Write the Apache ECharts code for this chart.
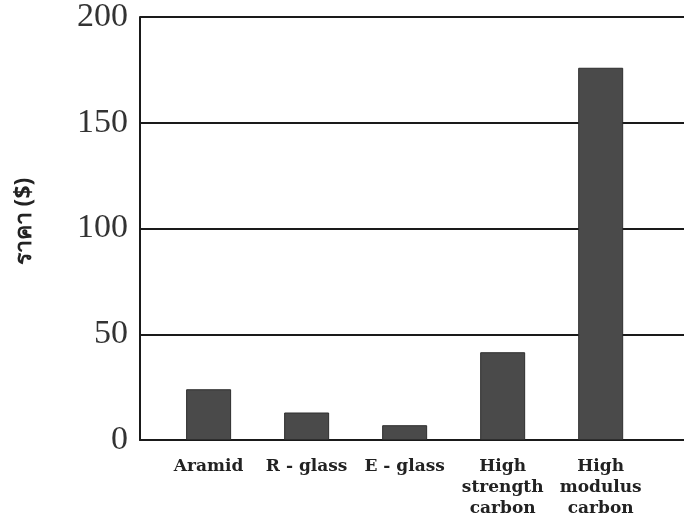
<!DOCTYPE html>
<html>
<head>
<meta charset="utf-8">
<script src="https://cdn.jsdelivr.net/npm/echarts@6/dist/echarts.min.js"></script>
<style>
  html, body { margin: 0; padding: 0; background: #fff; }
  #chart { width: 684px; height: 527px; }
</style>
</head>
<body>
<div id="chart"></div>
<script>
  // categories along the bottom
  var categories = ['Aramid', 'R - glass', 'E - glass', 'High\nstrength\ncarbon', 'High\nmodulus\ncarbon'];
  // price values
  var prices = [24, 13, 7, 41.5, 176];
  var yTicks = [0, 50, 100, 150, 200];

  var barData = prices.map(function (v, i) { return [i, v]; });

  var myChart = echarts.init(document.getElementById('chart'));
  var options = {
    animation: false,
    backgroundColor: '#fff',
    grid: {
      left: 140,
      right: 0,
      top: 14,
      bottom: 87
    },
    xAxis: {
      type: 'value',
      min: -0.7,
      max: 4.85,
      splitLine: { show: false },
      axisTick: { show: false },
      axisLine: { show: true, onZero: false, lineStyle: { color: '#1a1a1a', width: 2 } },
      axisLabel: {
        customValues: [0, 1, 2, 3, 4],
        margin: 16,
        fontFamily: '"DejaVu Serif", serif',
        fontWeight: 'bold',
        fontSize: 17,
        lineHeight: 21,
        color: '#222',
        formatter: function (value) {
          return categories[Math.round(value)];
        }
      }
    },
    yAxis: {
      type: 'value',
      min: 0,
      max: 200,
      interval: 50,
      name: 'ราคา ($)',
      nameLocation: 'middle',
      nameRotate: 90,
      nameGap: 104,
      nameTextStyle: {
        fontFamily: '"Noto Sans", "DejaVu Sans", sans-serif',
        fontWeight: 'bold',
        fontSize: 23,
        color: '#222',
        padding: [0, 0, 0, 14]
      },
      axisLine: { show: true, onZero: false, lineStyle: { color: '#1a1a1a', width: 2 } },
      axisTick: { show: false },
      splitLine: { show: true, lineStyle: { color: '#1a1a1a', width: 2 } },
      axisLabel: {
        margin: 12,
        fontFamily: '"Liberation Serif", serif',
        fontSize: 34,
        color: '#333',
        customValues: yTicks
      }
    },
    series: [{
      type: 'bar',
      data: barData,
      barWidth: 45,
      itemStyle: {
        color: '#4a4a4a',
        borderColor: '#2e2e2e',
        borderWidth: 1
      }
    }]
  };
  myChart.setOption(options, true);
</script>
</body>
</html>
